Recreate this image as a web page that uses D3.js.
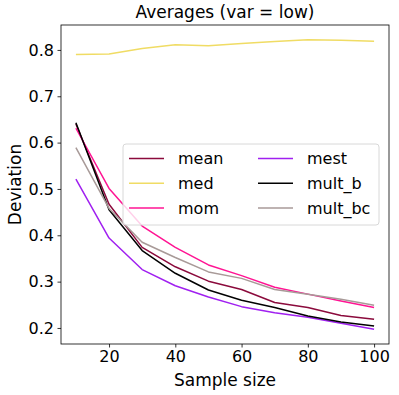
<!DOCTYPE html>
<html><head><meta charset="utf-8">
<script src="https://cdn.jsdelivr.net/npm/d3@7"></script>
<style>body{margin:0;background:#fff}svg{display:block;font-family:"DejaVu Sans",sans-serif}</style>
</head><body><svg id="c" width="399" height="395"></svg>
<script>
const sampleSizes = [10,20,30,40,50,60,70,80,90,100];
const seriesNames = ["mean","med","mom","mest","mult_b","mult_bc"];
const meanVals   = [0.640,0.467,0.374,0.332,0.301,0.283,0.255,0.244,0.227,0.219];
const medVals    = [0.790,0.791,0.803,0.811,0.809,0.814,0.818,0.822,0.821,0.819];
const momVals    = [0.631,0.501,0.420,0.374,0.336,0.313,0.288,0.273,0.258,0.244];
const mestVals   = [0.521,0.394,0.326,0.291,0.267,0.246,0.233,0.223,0.210,0.197];
const multBVals  = [0.643,0.455,0.367,0.318,0.282,0.260,0.244,0.226,0.213,0.204];
const multBcVals = [0.589,0.458,0.385,0.352,0.321,0.307,0.283,0.273,0.262,0.249];
const seriesColors = ["#8b0a3c","#f0dc64","#ff1493","#a020f0","#000000","#a89a98"];
const xTicks = [20,40,60,80,100];
const yTicks = [0.2,0.3,0.4,0.5,0.6,0.7,0.8];

const allVals = [meanVals,medVals,momVals,mestVals,multBVals,multBcVals];
const series = seriesNames.map((n,i)=>({name:n,color:seriesColors[i],values:allVals[i]}));

const L=61,R=389,T=25,B=344;
const svg=d3.select("#c");
const x=d3.scaleLinear().domain([5.5,104.5]).range([L,R]);
const y=d3.scaleLinear().domain([0.1654,0.8538]).range([B,T]);

const line=d3.line().x((d,i)=>x(sampleSizes[i])).y(d=>y(d));
series.forEach(s=>{
  svg.append("path").attr("d",line(s.values)).attr("fill","none")
    .attr("stroke",s.color).attr("stroke-width",1.5).attr("stroke-linejoin","round");
});

const xa=svg.append("g").attr("transform",`translate(0,${B})`)
  .call(d3.axisBottom(x).tickValues(xTicks).tickSize(3.5).tickPadding(3.5).tickFormat(d3.format("d")));
const ya=svg.append("g").attr("transform",`translate(${L},0)`)
  .call(d3.axisLeft(y).tickValues(yTicks).tickSize(3.5).tickPadding(3.5).tickFormat(d3.format(".1f")));
[xa,ya].forEach(a=>{
  a.select(".domain").remove();
  a.selectAll("line").attr("stroke","#000").attr("stroke-width",0.8);
  a.selectAll("text").attr("font-size",16).attr("fill","#000").attr("font-family","DejaVu Sans");
});
svg.append("rect").attr("x",L).attr("y",T).attr("width",R-L).attr("height",B-T)
  .attr("fill","none").attr("stroke","#000").attr("stroke-width",0.8);

const lg=svg.append("g");
lg.append("rect").attr("x",123).attr("y",144).attr("width",256).attr("height",81).attr("rx",3)
  .attr("fill","#fff").attr("fill-opacity",0.8).attr("stroke","#d8d8d8").attr("stroke-width",1);
series.forEach((s,i)=>{
  const col=Math.floor(i/3), row=i%3;
  const lx=col===0?129:258, ly=158.5+row*24.8;
  lg.append("line").attr("x1",lx).attr("x2",lx+35).attr("y1",ly).attr("y2",ly)
    .attr("stroke",s.color).attr("stroke-width",1.5);
  lg.append("text").attr("x",lx+49).attr("y",ly).attr("dy","0.35em").attr("font-size",16)
    .attr("fill","#000").text(s.name);
});

svg.append("text").attr("x",(L+R)/2).attr("y",18).attr("text-anchor","middle").attr("font-size",17).text("Averages (var = low)");
svg.append("text").attr("x",(L+R)/2).attr("y",386).attr("text-anchor","middle").attr("font-size",17).text("Sample size");
svg.append("text").attr("transform",`translate(21,${(T+B)/2}) rotate(-90)`).attr("text-anchor","middle").attr("font-size",17).text("Deviation");
</script></body></html>
